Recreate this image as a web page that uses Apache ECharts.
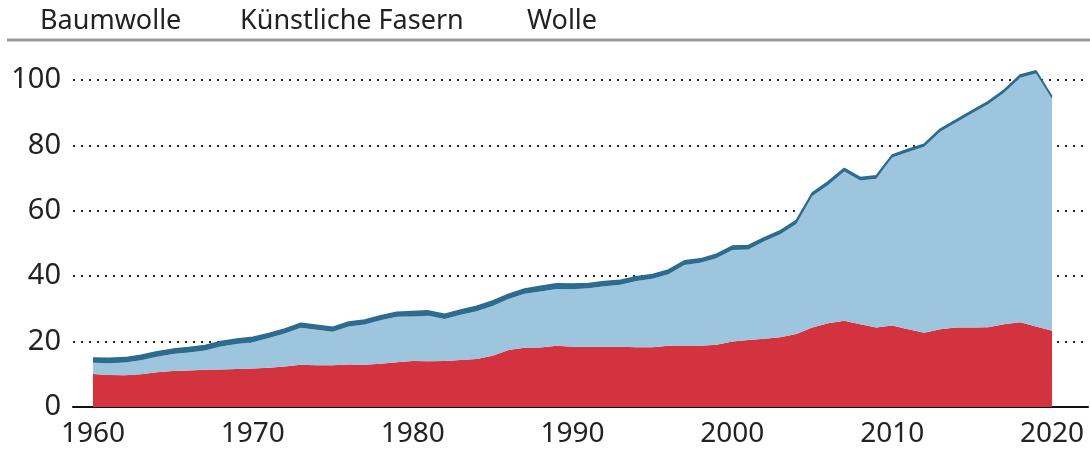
<!DOCTYPE html>
<html>
<head>
<meta charset="utf-8">
<script src="https://cdn.jsdelivr.net/npm/echarts@6/dist/echarts.min.js"></script>
<style>
html,body{margin:0;padding:0;background:#fff;}
#chart{width:1090px;height:454px;}
</style>
</head>
<body>
<div id="chart"></div>
<script>
const years = [];
for (let y = 1960; y <= 2020; y++) years.push(y);

const legendNames = ['Baumwolle', 'Künstliche Fasern', 'Wolle'];
const xTickLabels = [1960, 1970, 1980, 1990, 2000, 2010, 2020];
const yTickLabels = [0, 20, 40, 60, 80, 100];

const cotton = [
  10.1, 9.8, 9.7, 10.0, 10.6, 11.0, 11.2, 11.4, 11.5, 11.6,
  11.8, 12.0, 12.4, 12.9, 12.8, 12.8, 13.0, 12.9, 13.2, 13.7,
  14.1, 14.0, 14.1, 14.4, 14.7, 15.7, 17.4, 18.1, 18.2, 18.7,
  18.4, 18.4, 18.4, 18.4, 18.3, 18.3, 18.7, 18.8, 18.7, 19.0,
  20.0, 20.5, 20.9, 21.3, 22.3, 24.3, 25.6, 26.4, 25.3, 24.3,
  24.9, 23.8, 22.7, 23.8, 24.3, 24.3, 24.4, 25.3, 25.9, 24.6,
  23.3
];
const synthetic = [
  3.4, 3.6, 3.9, 4.3, 4.8, 5.2, 5.5, 5.9, 7.0, 7.7,
  8.0, 9.1, 10.1, 11.3, 10.8, 10.2, 11.6, 12.3, 13.3, 13.9,
  13.6, 13.9, 12.8, 13.8, 14.6, 15.2, 15.6, 16.5, 17.1, 17.4,
  17.6, 17.9, 18.5, 19.0, 20.2, 20.9, 21.9, 24.6, 25.4, 26.5,
  28.0, 27.7, 29.8, 31.5, 33.7, 40.2, 42.3, 45.6, 44.0, 45.5,
  51.4, 54.2, 56.9, 60.4, 62.7, 65.5, 68.2, 70.8, 74.8, 77.4,
  70.9
];
const wool = [
  1.5, 1.5, 1.5, 1.5, 1.5, 1.5, 1.5, 1.5, 1.5, 1.5,
  1.5, 1.4, 1.4, 1.4, 1.4, 1.4, 1.4, 1.4, 1.4, 1.4,
  1.5, 1.5, 1.5, 1.5, 1.5, 1.5, 1.5, 1.5, 1.6, 1.6,
  1.6, 1.5, 1.5, 1.4, 1.3, 1.3, 1.3, 1.3, 1.2, 1.2,
  1.2, 1.2, 1.1, 1.1, 1.1, 1.0, 1.0, 1.0, 0.9, 0.9,
  0.8, 0.8, 0.8, 0.8, 0.8, 0.8, 0.8, 0.8, 0.8, 0.8,
  0.7
];

const colors = ['#d3333f', '#9dc5dd', '#2d6b8f'];
const FONT = '"Noto Sans", sans-serif';
const TXT = '#222222';

// value first, year second, so that ECharts stacks the value dimension
const pair = arr => years.map((y, i) => [arr[i], y]);

const chart = echarts.init(document.getElementById('chart'), null, {renderer: 'canvas'});

function areaSeries(name, data, color, lineW) {
  return {
    name: name,
    type: 'line',
    stack: 'total',
    data: pair(data),
    encode: {x: 1, y: 0},
    showSymbol: false,
    symbol: 'none',
    clip: false,
    lineStyle: {width: lineW, color: color},
    areaStyle: {color: color, opacity: 1},
    itemStyle: {color: color},
    emphasis: {disabled: true}
  };
}

chart.setOption({
  animation: false,
  textStyle: {fontFamily: FONT},
  grid: {left: 73, right: 2, top: 80, bottom: 47, containLabel: false},
  xAxis: {
    type: 'value',
    min: 1958.75,
    max: 2022.25,
    axisLine: {show: true, lineStyle: {color: '#111', width: 2}},
    axisTick: {show: false},
    splitLine: {show: false},
    axisLabel: {
      customValues: xTickLabels,
      color: TXT, fontSize: 28, fontFamily: FONT, margin: 13,
      formatter: v => String(v)
    }
  },
  yAxis: {
    type: 'value',
    min: 0,
    max: 100,
    interval: 20,
    axisLine: {show: false},
    axisTick: {show: false},
    axisLabel: {
      customValues: yTickLabels,
      color: TXT, fontSize: 29, fontFamily: FONT, margin: 12
    },
    splitLine: {
      show: true,
      lineStyle: {color: '#222', width: 2, type: [2, 6]}
    }
  },
  series: [
    areaSeries(legendNames[0], cotton, colors[0], 0),
    areaSeries(legendNames[1], synthetic, colors[1], 0),
    areaSeries(legendNames[2], wool, colors[2], 1.5)
  ],
  graphic: [
    {type: 'line', shape: {x1: 7, y1: 40, x2: 1090, y2: 40}, style: {stroke: '#999999', lineWidth: 3}, silent: true},
    {type: 'text', left: 40, top: 8, style: {text: legendNames[0], fill: TXT, font: '27px ' + FONT}},
    {type: 'text', left: 240, top: 8, style: {text: legendNames[1], fill: TXT, font: '27px ' + FONT}},
    {type: 'text', left: 527, top: 8, style: {text: legendNames[2], fill: TXT, font: '27px ' + FONT}}
  ]
});
</script>
</body>
</html>
